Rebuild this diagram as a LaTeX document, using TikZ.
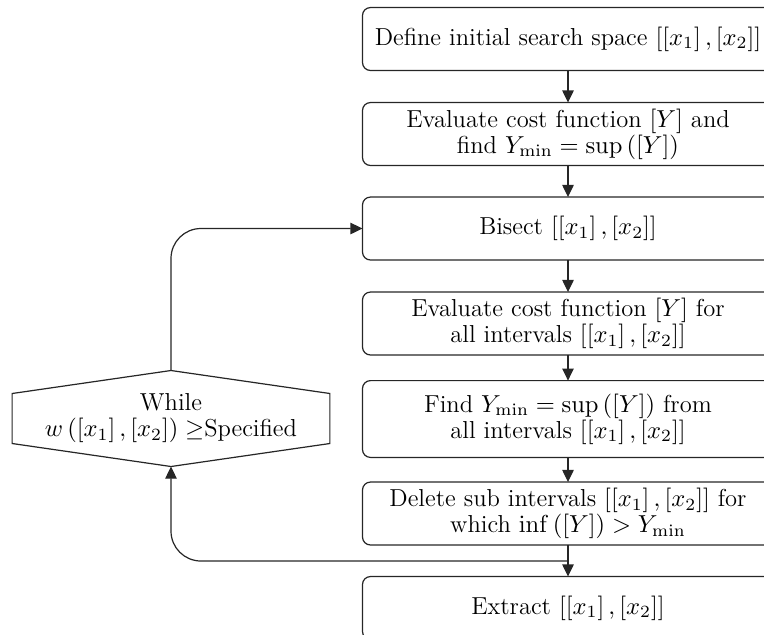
\RequirePackage{fix-cm}
\documentclass[tikz,border=0pt]{standalone}
\usetikzlibrary{arrows.meta,calc}
\begin{document}
\begin{tikzpicture}[x=0.4545pt,y=-0.4545pt,
  font=\fontsize{11.15pt}{11.8pt}\selectfont,
  box/.style={minimum width=186.4pt,minimum height=28.2pt,align=center,inner sep=1pt},
  tallbox/.style={box,minimum height=34.5pt},
  frame/.style={draw=black!85,line width=0.55pt,rounded corners=3.6pt},
  arr/.style={draw=black!85,line width=0.55pt,-{Triangle[length=5.5pt,width=5.2pt]}},
  loop/.style={arr,rounded corners=13.6pt}]
\path[use as bounding box] (0,0) rectangle (764,634);
\clip (0,0) rectangle (764,634);
\node[box] (b1) at (568,39) {Define initial search space $\left[\left[x_1\right],\left[x_2\right]\right]$};
\node[box] (b2) at (568,134) {Evaluate cost function $\left[Y\right]$ and\\ find $Y_{\min}=\sup\left(\left[Y\right]\right)$};
\node[box] (b3) at (568,228.5) {Bisect $\left[\left[x_1\right],\left[x_2\right]\right]$};
\node[box] (b4) at (568,323.5) {Evaluate cost function $\left[Y\right]$ for\\ all intervals $\left[\left[x_1\right],\left[x_2\right]\right]$};
\node[tallbox] (b5) at (568,419) {Find $Y_{\min}=\sup\left(\left[Y\right]\right)$ from\\ all intervals $\left[\left[x_1\right],\left[x_2\right]\right]$};
\node[box] (b6) at (568,513.5) {Delete sub intervals $\left[\left[x_1\right],\left[x_2\right]\right]$ for\\ which $\inf\left(\left[Y\right]\right)>Y_{\min}$};
\node[box] (b7) at (568,608) {Extract $\left[\left[x_1\right],\left[x_2\right]\right]$};
\foreach \b in {b1,b2,b3,b4,b5,b6,b7}
  \draw[frame] (\b.south west) rectangle ($(\b.north east)+(40,0)$);
\node[minimum width=144pt,minimum height=22.3pt,align=center,inner sep=0pt] (wh) at (171,418.5) {While\\ $w\left(\left[x_1\right],\left[x_2\right]\right)\geq$Specified};
\draw[draw=black!85,line width=0.55pt] (wh.north west) -- ($(wh.north)+(0,-23)$) coordinate (whtop) -- (wh.north east) -- (wh.south east) -- ($(wh.south)+(0,23)$) coordinate (whbot) -- (wh.south west) -- cycle;
\draw[arr] (b1) -- (b2);
\draw[arr] (b2) -- (b3);
\draw[arr] (b3) -- (b4);
\draw[arr] (b4) -- (b5);
\draw[arr] (b5) -- (b6);
\draw[arr] (b6) -- (b7);
\coordinate (j) at (568,561);
\draw[loop] (whtop) |- (b3.west);
\draw[loop] (j) -| (whbot);
\end{tikzpicture}
\end{document}
